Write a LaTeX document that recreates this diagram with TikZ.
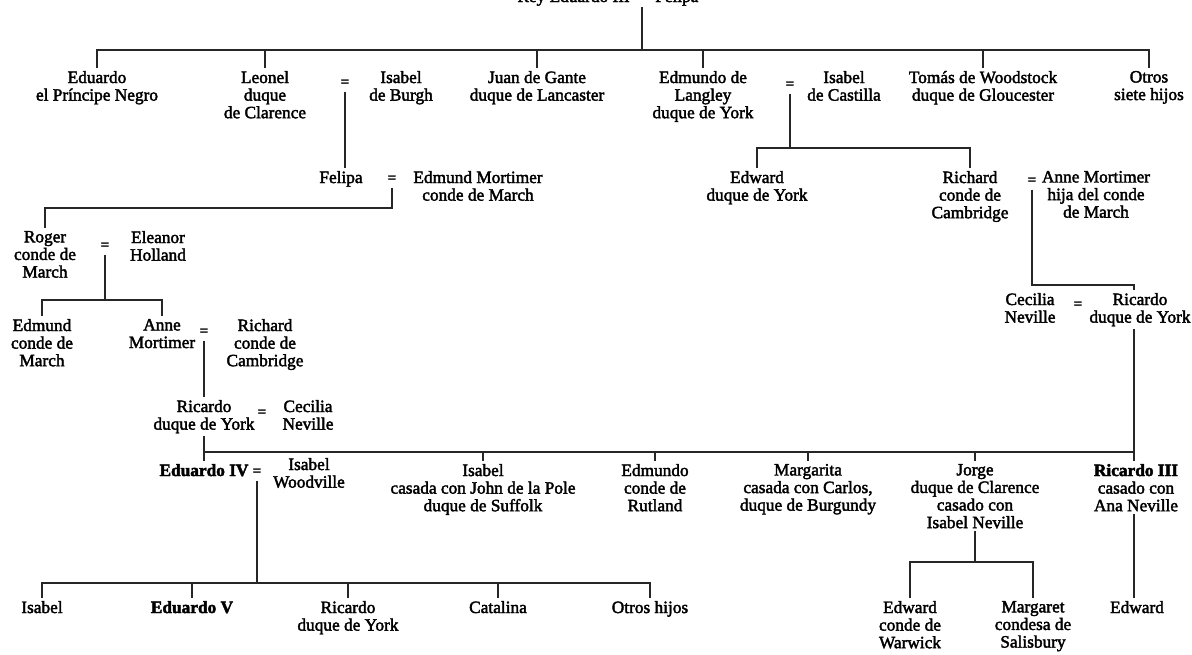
\documentclass[tikz,border=0pt]{standalone}
\usepackage{fontspec}
\setmainfont{Liberation Serif}[UprightFeatures={FakeBold=2.2}, BoldFeatures={FakeBold=2.5}]
\newcommand\pfont{\fontsize{17.3}{17.6}\selectfont}
\newcommand\eqfont{\fontsize{15}{15}\selectfont\bfseries}
\begin{document}
\begin{tikzpicture}[x=1pt,y=-1pt,
  every node/.style={inner sep=0pt},
  person/.style={align=center, font=\pfont, outer sep=3pt, anchor=north},
  wed/.style={font=\eqfont, outer sep=5pt},
  link/.style={line width=1.5pt, draw=black!85}]
\useasboundingbox[fill=white] (0,0) rectangle (1192,654);
\clip (0,0) rectangle (1192,654);

% --- Eduardo III and Felipa
\node[font=\pfont, anchor=base east] (rey) at (630,2) {Rey Eduardo III};
\node[wed, anchor=base] (eqT) at (642,2) {=};
\node[font=\pfont, anchor=base west] (felipaH) at (655,2) {Felipa};
\coordinate (bar1) at (642,50);

% --- their children
\node[person] (eduardoP) at (97,68)  {Eduardo\\el Príncipe Negro};
\node[person] (leonel)   at (265,68) {Leonel\\duque\\de Clarence};
\node[wed]    (eqL)      at (345,83) {=};
\node[person] (isabelB)  at (401,68) {Isabel\\de Burgh};
\node[person] (juan)     at (537,68) {Juan de Gante\\duque de Lancaster};
\node[person] (edmundo)  at (703,68) {Edmundo de\\Langley\\duque de York};
\node[wed]    (eqE)      at (790,85) {=};
\node[person] (isabelC)  at (844,68) {Isabel\\de Castilla};
\node[person] (tomas)    at (983,68) {Tomás de Woodstock\\duque de Gloucester};
\node[person] (otros)    at (1149,68) {Otros\\siete hijos};

\draw[link] (eqT.south) -- (eqT.south |- bar1);
\draw[link] (eduardoP.north) -- (eduardoP.north |- bar1) -- (otros.north |- bar1) -- (otros.north);
\foreach \c in {leonel,juan,edmundo,tomas}
  \draw[link] (\c.north |- bar1) -- (\c.north);

% --- Mortimer line
\node[person] (felipa)   at (341,168) {Felipa};
\node[wed]    (eqF)      at (392,179) {=};
\node[person] (mortimer) at (478,168) {Edmund Mortimer\\conde de March};
\draw[link] (eqL.south) -- (eqL.south |- felipa.north);

% --- York line
\coordinate (bar2) at (790,148);
\node[person] (edwardY)  at (757,168) {Edward\\duque de York};
\node[person] (richardC) at (970,168) {Richard\\conde de\\Cambridge};
\node[wed]    (eqR)      at (1032,181) {=};
\node[person] (anneMR)   at (1096,168) {Anne Mortimer\\hija del conde\\de March};
\draw[link] (eqE.south) -- (eqE.south |- bar2);
\draw[link] (edwardY.north) -- (edwardY.north |- bar2) -- (richardC.north |- bar2) -- (richardC.north);

% --- Roger Mortimer
\coordinate (bar3) at (0,208);
\node[person] (roger)   at (45,228)  {Roger\\conde de\\March};
\node[wed]    (eqRo)    at (105,246) {=};
\node[person] (eleanor) at (158,228) {Eleanor\\Holland};
\draw[link] (eqF.south) -- (eqF.south |- bar3) -- (roger.north |- bar3) -- (roger.north);

\coordinate (bar4) at (0,300);
\node[person] (edmundM)  at (42,316)  {Edmund\\conde de\\March};
\node[person] (anneML)   at (162,316) {Anne\\Mortimer};
\node[wed]    (eqA)      at (204,332) {=};
\node[person] (richardL) at (265,316) {Richard\\conde de\\Cambridge};
\draw[link] (eqRo.south) -- (eqRo.south |- bar4);
\draw[link] (edmundM.north) -- (edmundM.north |- bar4) -- (anneML.north |- bar4) -- (anneML.north);

% --- Ricardo, duque de York (both sides)
\node[person] (ricardoL) at (204,397) {Ricardo\\duque de York};
\node[wed]    (eqCL)     at (262,413) {=};
\node[person] (ceciliaL) at (308,397) {Cecilia\\Neville};
\draw[link] (eqA.south) -- (eqA.south |- ricardoL.north);

\coordinate (bar5) at (0,285);
\coordinate (rline) at (1134,0);
\node[person] (ceciliaR) at (1030,290) {Cecilia\\Neville};
\node[wed]    (eqCR)     at (1078,305) {=};
\node[person] (ricardoR) at (1140,290) {Ricardo\\duque de York};
\draw[link] (eqR.south) -- (eqR.south |- bar5) -- (rline |- bar5) -- (rline |- ricardoR.north);

% --- children of Ricardo and Cecilia
\coordinate (bar6) at (0,452);
\node[person, font=\pfont\bfseries] (eduardoIV) at (204,461) {Eduardo IV};
\node[wed]    (eqW)      at (257,472) {=};
\node[person] (isabelW)  at (309,455) {Isabel\\Woodville};
\node[person] (isabelS)  at (483,461) {Isabel\\casada con John de la Pole\\duque de Suffolk};
\node[person] (edmundoR) at (655,461) {Edmundo\\conde de\\Rutland};
\node[person] (margarita) at (808,461) {Margarita\\casada con Carlos,\\duque de Burgundy};
\node[person] (jorge)    at (975,461) {Jorge\\duque de Clarence\\casado con\\Isabel Neville};
\node[person] (ricardoIII) at (1136,461) {\textbf{Ricardo III}\\casado con\\Ana Neville};

\draw[link] (ricardoL.south) -- (eduardoIV.north);
\draw[link] (rline |- ricardoR.south) -- (rline |- ricardoIII.north);
\draw[link] (ricardoL.south |- bar6) -- (rline |- bar6);
\foreach \c in {isabelS,edmundoR,margarita,jorge}
  \draw[link] (\c.north |- bar6) -- (\c.north);

% --- children of Eduardo IV
\coordinate (bar7) at (0,583);
\node[person] (isabelE)  at (42,598)  {Isabel};
\node[person, font=\pfont\bfseries] (eduardoV) at (192,598) {Eduardo V};
\node[person] (ricardoD) at (348,598) {Ricardo\\duque de York};
\node[person] (catalina) at (498,598) {Catalina};
\node[person] (otrosH)   at (650,598) {Otros hijos};
\draw[link] (eqW.south) -- (eqW.south |- bar7);
\draw[link] (isabelE.north) -- (isabelE.north |- bar7) -- (otrosH.north |- bar7) -- (otrosH.north);
\foreach \c in {eduardoV,ricardoD,catalina}
  \draw[link] (\c.north |- bar7) -- (\c.north);

% --- children of Jorge and of Ricardo III
\coordinate (bar8) at (0,562);
\node[person] (edwardW)  at (910,598)  {Edward\\conde de\\Warwick};
\node[person] (margaret) at (1033,598) {Margaret\\condesa de\\Salisbury};
\node[person] (edwardR)  at (1137,598) {Edward};
\draw[link] (jorge.south) -- (jorge.south |- bar8);
\draw[link] (edwardW.north) -- (edwardW.north |- bar8) -- (margaret.north |- bar8) -- (margaret.north);
\draw[link] (rline |- ricardoIII.south) -- (rline |- edwardR.north);
\end{tikzpicture}
\end{document}
